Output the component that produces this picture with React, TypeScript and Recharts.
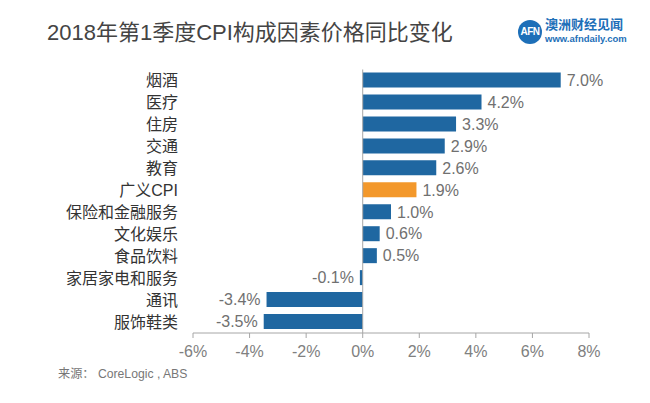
import React from 'react';
import { BarChart, Bar, XAxis, YAxis, Cell, LabelList, ReferenceLine } from 'recharts';

const categories = ['烟酒', '医疗', '住房', '交通', '教育', '广义CPI', '保险和金融服务', '文化娱乐', '食品饮料', '家居家电和服务', '通讯', '服饰鞋类'];
const values = [7.0, 4.2, 3.3, 2.9, 2.6, 1.9, 1.0, 0.6, 0.5, -0.1, -3.4, -3.5];
const highlight = ['广义CPI'];
const xTicks = [-6, -4, -2, 0, 2, 4, 6, 8];

const data = categories.map((name, i) => ({ name, value: values[i] }));

const FONT = '"Liberation Sans", Arial, "Noto Sans CJK SC", sans-serif';
const BLUE = '#1f67a1';
const ORANGE = '#f3982b';

const ValueLabel = (props: any) => {
  const { x, y, width, height, value } = props;
  const left = Math.min(x, x + width);
  const right = Math.max(x, x + width);
  const cy = y + height / 2;
  const neg = value < 0;
  return (
    <text
      x={neg ? left - 6 : right + 6}
      y={cy}
      dy="0.36em"
      textAnchor={neg ? 'end' : 'start'}
      fill="#707070"
      fontSize={16}
      fontFamily={FONT}
    >
      {value.toFixed(1) + '%'}
    </text>
  );
};

export default function App() {
  return (
    <div style={{ position: 'absolute', left: 0, top: 0, width: 650, height: 403, background: '#fff', fontFamily: FONT }}>
      <div style={{ position: 'absolute', left: 47, top: 19, fontSize: 22, color: '#444', whiteSpace: 'nowrap', lineHeight: '28px' }}>
        2018年第1季度CPI构成因素价格同比变化
      </div>
      <div style={{ position: 'absolute', left: 518, top: 20, width: 24, height: 24, borderRadius: 12, background: '#1d6fb8', color: '#fff', fontSize: 10, fontWeight: 700, lineHeight: '24px', textAlign: 'center', letterSpacing: -0.5 }}>
        AFN
      </div>
      <div style={{ position: 'absolute', left: 545, top: 17, fontSize: 13, color: '#1d6fb8', fontWeight: 700, whiteSpace: 'nowrap', lineHeight: '16px', letterSpacing: 0 }}>
        澳洲财经见闻
      </div>
      <div style={{ position: 'absolute', left: 545, top: 33, fontSize: 9.5, color: '#1d6fb8', fontWeight: 700, whiteSpace: 'nowrap', lineHeight: '11px' }}>
        www.afndaily.com
      </div>
      <div style={{ position: 'absolute', left: 58, top: 367, fontSize: 12.2, color: '#777', whiteSpace: 'nowrap', lineHeight: '15px' }}>
        来源： CoreLogic , ABS
      </div>
      <div style={{ position: 'absolute', left: 0, top: 0 }}>
        <BarChart
          width={650}
          height={403}
          data={data}
          layout="vertical"
          margin={{ top: 69.5, right: 61, bottom: 0, left: 0 }}
          barSize={15}
        >
          <XAxis
            type="number"
            dataKey="value"
            domain={[-6, 8]}
            ticks={xTicks}
            tickFormatter={(v: number) => `${v}%`}
            axisLine={{ stroke: '#a6a6a6' }}
            tickLine={{ stroke: '#a6a6a6' }}
            tickSize={5}
            tickMargin={8}
            height={70}
            tick={{ fill: '#808080', fontSize: 16, fontFamily: FONT }}
            interval={0}
          />
          <YAxis
            type="category"
            dataKey="name"
            width={193}
            axisLine={false}
            tickLine={false}
            tickSize={6}
            tickMargin={9}
            interval={0}
            tick={{ fill: '#333', fontSize: 16, fontFamily: FONT }}
          />
          <ReferenceLine x={0} stroke="#a6a6a6" strokeWidth={1} ifOverflow="extendDomain" />
          <Bar dataKey="value" isAnimationActive={false}>
            {data.map((d) => (
              <Cell key={d.name} fill={highlight.includes(d.name) ? ORANGE : BLUE} />
            ))}
            <LabelList dataKey="value" content={ValueLabel} />
          </Bar>
        </BarChart>
      </div>
    </div>
  );
}
